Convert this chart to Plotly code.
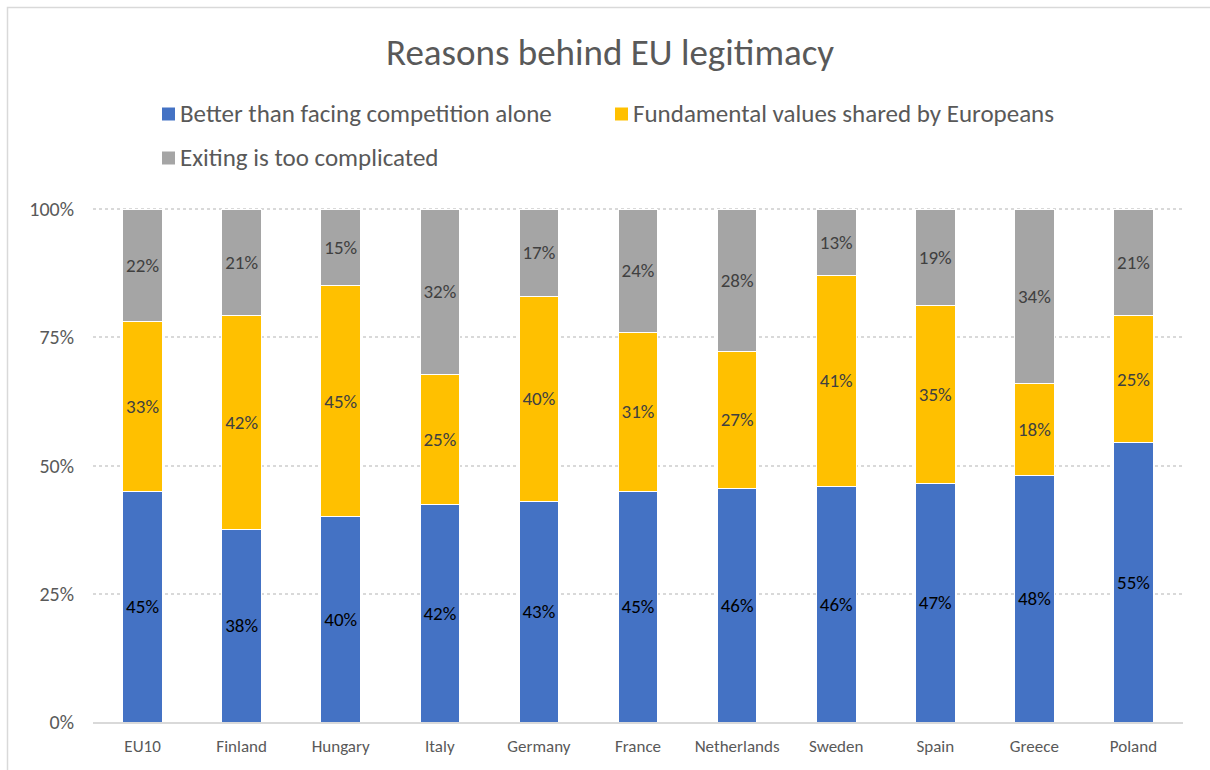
import plotly.graph_objects as go

# Survey results: share of respondents citing each reason (%)
countries = ["EU10", "Finland", "Hungary", "Italy", "Germany", "France",
             "Netherlands", "Sweden", "Spain", "Greece", "Poland"]
competition = [45, 38, 40, 42, 43, 45, 46, 46, 47, 48, 55]
shared_values = [33, 42, 45, 25, 40, 31, 27, 41, 35, 18, 25]
too_complicated = [22, 21, 15, 32, 17, 24, 28, 13, 19, 34, 21]

series_names = ["Better than facing competition alone",
                "Fundamental values shared by Europeans",
                "Exiting is too complicated"]
series_values = [competition, shared_values, too_complicated]
series_colors = ["#4472C4", "#FFC000", "#A5A5A5"]
label_colors = ["#000000", "#404040", "#404040"]

y_ticks = [0, 25, 50, 75, 100]
y_tick_text = ["0%", "25%", "50%", "75%", "100%"]

FONT = "Carlito, Lato, 'Liberation Sans', sans-serif"
W, H = 1210, 770
L, R, T, B = 93, 27, 208, 48
PW, PH = W - L - R, H - T - B


def px_x(x):
    return (x - L) / PW


def px_y(y):
    return (H - B - y) / PH


fig = go.Figure()
for name, vals, col, lcol in zip(series_names, series_values, series_colors, label_colors):
    fig.add_trace(go.Bar(
        name=name, x=countries, y=vals,
        marker=dict(color=col, line=dict(color="white", width=1)),
        text=vals, texttemplate="%{text}%",
        textposition="inside", insidetextanchor="middle",
        textangle=0, constraintext="none",
        textfont=dict(family=FONT, size=19, color=lcol),
        showlegend=False,
        hovertemplate="%{x}: %{text}%<extra>" + name + "</extra>",
    ))

# Legend rows drawn as swatches + labels
legend_pos = [(162, 114), (615, 114), (162, 158)]
shapes = []
annotations = []
for (lx, ly), name, col in zip(legend_pos, series_names, series_colors):
    shapes.append(dict(type="rect", xref="paper", yref="paper",
                       x0=px_x(lx), x1=px_x(lx + 13),
                       y0=px_y(ly + 6.5), y1=px_y(ly - 6.5),
                       fillcolor=col, line=dict(width=0)))
    annotations.append(dict(text=name, xref="paper", yref="paper",
                            x=px_x(lx + 16), y=px_y(ly),
                            xanchor="left", yanchor="middle", showarrow=False,
                            font=dict(family=FONT, size=25, color="#595959")))

# Outer chart frame
shapes.append(dict(type="rect", xref="paper", yref="paper",
                   x0=px_x(7.5), x1=px_x(1230), y0=px_y(790), y1=px_y(7.5),
                   line=dict(color="#D9D9D9", width=1.5), fillcolor="rgba(0,0,0,0)",
                   layer="below"))

fig.update_layout(
    width=W, height=H,
    margin=dict(l=L, r=R, t=T, b=B),
    paper_bgcolor="white", plot_bgcolor="white",
    barmode="stack", barnorm="percent", bargap=0.6,
    title=dict(text="Reasons behind EU legitimacy", x=610 / W, xref="container",
               xanchor="center", y=1 - 52 / H, yanchor="middle",
               font=dict(family=FONT, size=37, color="#595959")),
    font=dict(family=FONT, color="#595959"),
    shapes=shapes, annotations=annotations,
    xaxis=dict(showgrid=False, showline=True, linecolor="#D9D9D9", linewidth=1.5,
               ticks="", tickfont=dict(family=FONT, size=17, color="#595959"),
               ticklabelstandoff=8),
    yaxis=dict(range=[0, 100.2], tickmode="array", tickvals=y_ticks, ticktext=y_tick_text,
               showgrid=True, gridcolor="#D9D9D9", griddash="dot", gridwidth=1.5,
               zeroline=False, showline=False, ticks="",
               tickfont=dict(family=FONT, size=20, color="#595959"),
               ticklabelstandoff=18),
)

fig.write_html("out.html")
